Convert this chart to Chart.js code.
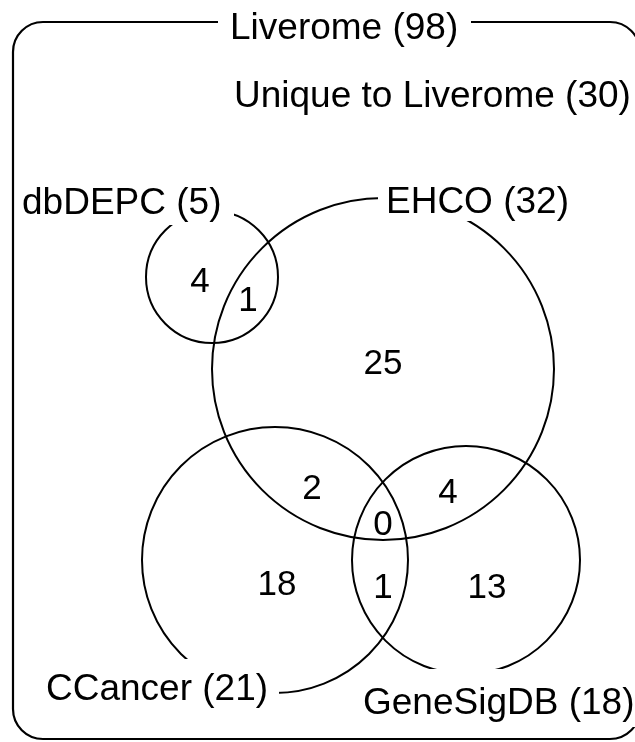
<!DOCTYPE html>
<html>
<head>
<meta charset="utf-8">
<script src="https://cdn.jsdelivr.net/npm/chart.js@4/dist/chart.umd.min.js"></script>
<style>
  html, body { margin: 0; padding: 0; background: #fff; }
  canvas { display: block; }
</style>
</head>
<body>
<canvas id="c" width="635" height="742"></canvas>
<script>
// ---- data ----
const setNames   = ['dbDEPC', 'EHCO', 'CCancer', 'GeneSigDB'];
const setTotals  = [5, 32, 21, 18];
const universeName  = 'Liverome';
const universeTotal = 98;
const uniqueCount   = 30;
// region counts: dbDEPC only, dbDEPC∩EHCO, EHCO only, EHCO∩CCancer, EHCO∩GeneSigDB,
// EHCO∩CCancer∩GeneSigDB, CCancer only, CCancer∩GeneSigDB, GeneSigDB only
const regionCounts = [4, 1, 25, 2, 4, 0, 18, 1, 13];

// ---- layout (diagram units = pixels of a 635x742 frame) ----
const circleX = [212, 383, 275, 466];
const circleY = [277, 369, 560, 560];
const circleR = [66, 171, 133, 114];
const regionX = [200, 248, 383, 312, 448, 383, 277, 383, 487];
const regionY = [279, 298, 361, 486, 490, 522, 582, 585, 585];

const FONT = '"Liberation Sans", Arial, Helvetica, sans-serif';

function px(chart, v) { return chart.scales.x.getPixelForValue(v); }
function py(chart, v) { return chart.scales.y.getPixelForValue(v); }

const frameAndLabels = {
  id: 'frameAndLabels',
  beforeDraw(chart) {
    const c = chart.ctx;
    c.save();
    c.fillStyle = '#fff';
    c.fillRect(0, 0, chart.width, chart.height);
    c.restore();
  },
  beforeDatasetsDraw(chart) {
    const c = chart.ctx;
    // rounded frame of the whole Liverome set
    const l = px(chart, 13), t = py(chart, 22), r = px(chart, 640), b = py(chart, 739), rad = 30;
    c.save();
    c.strokeStyle = '#000';
    c.lineWidth = 2.2;
    c.beginPath();
    c.moveTo(l + rad, t);
    c.lineTo(r - rad, t);
    c.arcTo(r, t, r, t + rad, rad);
    c.lineTo(r, b - rad);
    c.arcTo(r, b, r - rad, b, rad);
    c.lineTo(l + rad, b);
    c.arcTo(l, b, l, b - rad, rad);
    c.lineTo(l, t + rad);
    c.arcTo(l, t, l + rad, t, rad);
    c.closePath();
    c.stroke();
    c.restore();
  },
  afterDatasetsDraw(chart) {
    const c = chart.ctx;
    c.save();
    // set labels with white boxes that interrupt the outlines
    const labels = [
      { text: universeName + ' (' + universeTotal + ')', x: 230, y: 39, box: [218, 4, 471, 46] },
      { text: setNames[0] + ' (' + setTotals[0] + ')', x: 22, y: 214, box: [16, 183, 234, 225] },
      { text: setNames[1] + ' (' + setTotals[1] + ')', x: 386, y: 213, box: [378, 180, 585, 221] },
      { text: setNames[2] + ' (' + setTotals[2] + ')', x: 46, y: 700, box: [40, 659, 279, 722] },
      { text: setNames[3] + ' (' + setTotals[3] + ')', x: 363, y: 714, box: [355, 669, 640, 727] }
    ];
    labels.forEach(o => {
      const [x0, y0, x1, y1] = o.box;
      c.fillStyle = '#fff';
      c.fillRect(px(chart, x0), py(chart, y0), px(chart, x1) - px(chart, x0), py(chart, y1) - py(chart, y0));
    });
    c.fillStyle = '#000';
    c.font = '37px ' + FONT;
    c.textAlign = 'left';
    c.textBaseline = 'alphabetic';
    labels.forEach(o => c.fillText(o.text, px(chart, o.x), py(chart, o.y)));
    c.fillText('Unique to ' + universeName + ' (' + uniqueCount + ')', px(chart, 234), py(chart, 107));
    // region counts
    c.font = '35px ' + FONT;
    c.textAlign = 'center';
    regionCounts.forEach((v, i) => {
      c.fillText(String(v), px(chart, regionX[i]), py(chart, regionY[i] + 12.5));
    });
    c.restore();
  }
};

const datasets = setNames.map((name, i) => ({
  label: name,
  data: [{ x: circleX[i], y: circleY[i] }],
  pointRadius: ctx => {
    const s = ctx.chart.scales.x;
    return s.getPixelForValue(circleR[i]) - s.getPixelForValue(0);
  },
  pointHoverRadius: ctx => {
    const s = ctx.chart.scales.x;
    return s.getPixelForValue(circleR[i]) - s.getPixelForValue(0);
  },
  pointBackgroundColor: 'rgba(0,0,0,0)',
  pointBorderColor: '#000',
  pointBorderWidth: 2,
  showLine: false,
  clip: false
}));

new Chart(document.getElementById('c'), {
  type: 'scatter',
  data: { datasets },
  options: {
    responsive: false,
    animation: false,
    devicePixelRatio: 1,
    layout: { padding: 0 },
    events: [],
    plugins: { legend: { display: false }, tooltip: { enabled: false } },
    scales: {
      x: { type: 'linear', min: 0, max: 635, display: false },
      y: { type: 'linear', min: 0, max: 742, reverse: true, display: false }
    }
  },
  plugins: [frameAndLabels]
});
</script>
</body>
</html>
